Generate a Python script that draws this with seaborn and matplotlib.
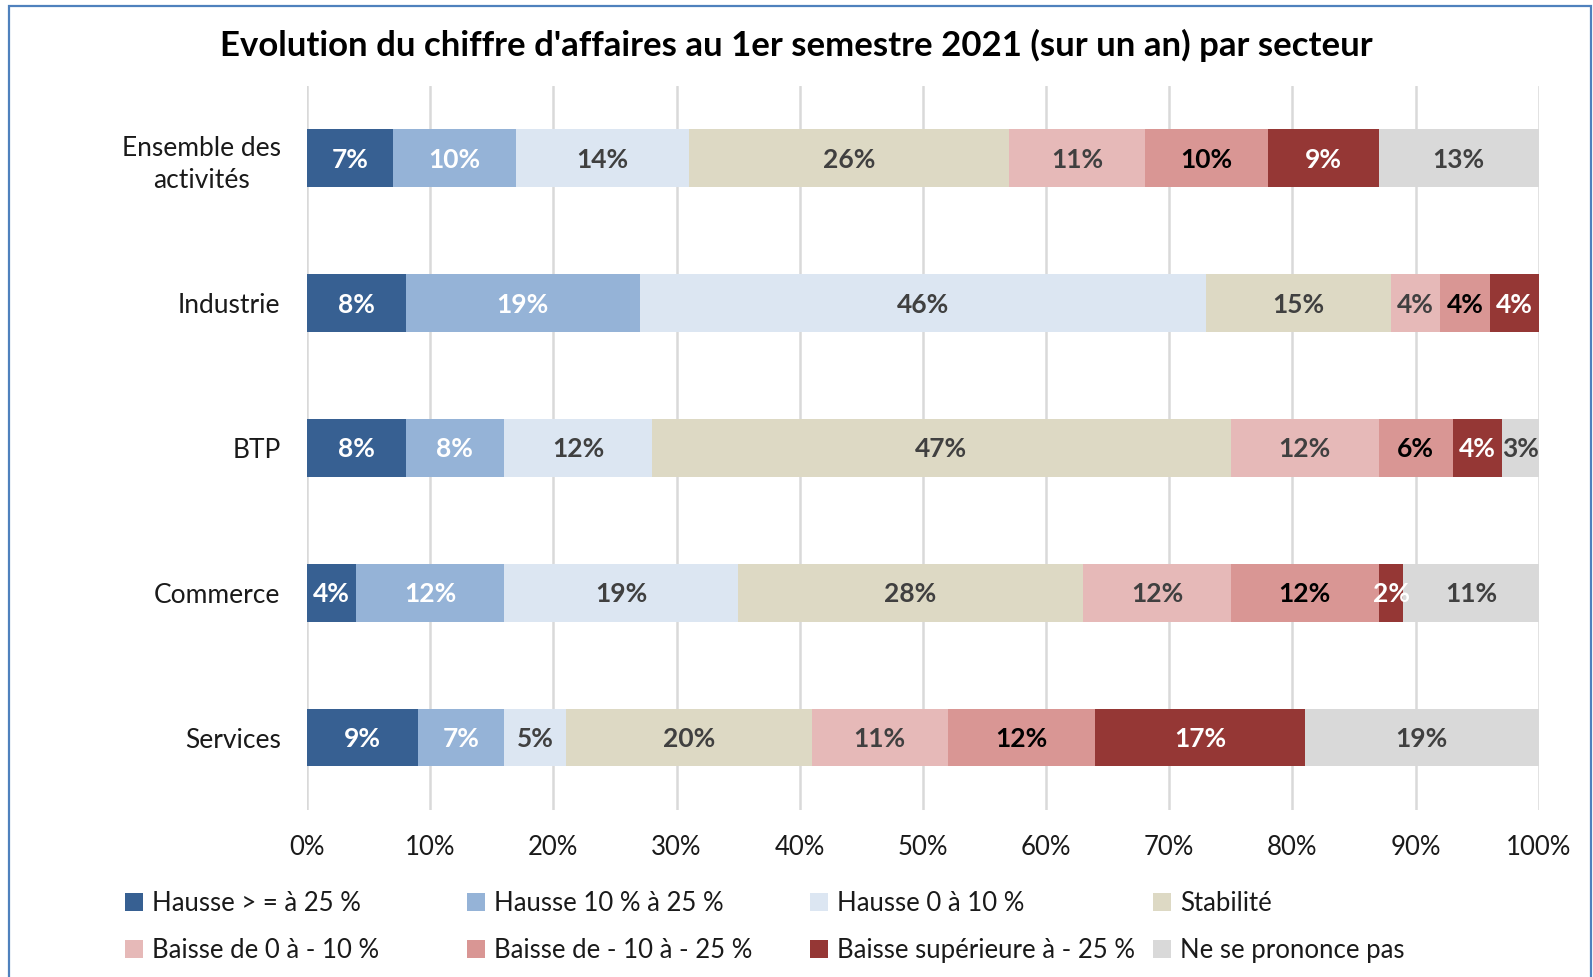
import matplotlib
matplotlib.use("Agg")
import matplotlib.pyplot as plt
from matplotlib.patches import Rectangle, Patch
import seaborn as sns
import pandas as pd
import numpy as np

sectors = ["Ensemble des\nactivités", "Industrie", "BTP", "Commerce", "Services"]
series_names = ["Hausse > = à 25 %", "Hausse 10 % à 25 %", "Hausse 0 à 10 %", "Stabilité",
                "Baisse de 0 à - 10 %", "Baisse de - 10 à - 25 %", "Baisse supérieure à - 25 %",
                "Ne se prononce pas"]
hausse_25 = [7, 8, 8, 4, 9]
hausse_10_25 = [10, 19, 8, 12, 7]
hausse_0_10 = [14, 46, 12, 19, 5]
stabilite = [26, 15, 47, 28, 20]
baisse_0_10 = [11, 4, 12, 12, 11]
baisse_10_25 = [10, 4, 6, 12, 12]
baisse_sup_25 = [9, 4, 4, 2, 17]
ne_se_prononce = [13, 0, 3, 11, 19]
values = [hausse_25, hausse_10_25, hausse_0_10, stabilite, baisse_0_10, baisse_10_25,
          baisse_sup_25, ne_se_prononce]

colors = ["#376092", "#95B3D7", "#DCE6F2", "#DDD9C4", "#E6B9B8", "#D99694", "#953735", "#D9D9D9"]
label_colors = ["white", "white", "#404040", "#404040", "#404040", "black", "white", "#404040"]

sns.set_theme(style="white")
FONT = ["Lato", "DejaVu Sans"]
plt.rcParams["font.family"] = FONT

fig = plt.figure(figsize=(15.93, 9.77), dpi=100)
ax = fig.add_axes([0.1927, 0.171, 0.966 - 0.1927, 0.912 - 0.171])

arr = np.array(values, dtype=float)
cum = np.cumsum(arr, axis=0)

for i in range(len(series_names) - 1, -1, -1):
    df = pd.DataFrame({"sector": sectors, "cum": cum[i]})
    sns.barplot(data=df, x="cum", y="sector", orient="h", color=colors[i], saturation=1,
                width=0.4, linewidth=0, ax=ax, zorder=2)

for i in range(len(series_names)):
    for j in range(len(sectors)):
        v = arr[i, j]
        if v <= 0:
            continue
        ax.text(cum[i, j] - v / 2, j + 0.01, f"{int(v)}%", ha="center", va="center",
                fontsize=19, fontweight="bold", color=label_colors[i], zorder=5)

ax.set_xlim(0, 100)
ax.set_ylim(4.5, -0.5)
ax.set_xticks(np.arange(0, 101, 10))
ax.set_xticklabels([f"{t}%" for t in range(0, 101, 10)], fontsize=18.5, color="#1a1a1a")
ax.set_yticks(range(len(sectors)))
ax.set_yticklabels(sectors, fontsize=19, color="#1a1a1a", multialignment="center",
                   linespacing=1.35)
ax.tick_params(axis="y", length=0, pad=19)
ax.tick_params(axis="x", length=0, pad=18)
ax.set_xlabel("")
ax.set_ylabel("")
for s in ax.spines.values():
    s.set_visible(False)
ax.grid(axis="x", color="#D9D9D9", linewidth=1.8, zorder=0)
ax.grid(axis="y", visible=False)
ax.set_axisbelow(True)

fig.text(0.5, 0.954, "Evolution du chiffre d'affaires au 1er semestre 2021 (sur un an) par secteur",
         ha="center", va="center", fontsize=25, fontweight="bold", color="black")

handles = [Patch(facecolor=c, edgecolor="none") for c in colors]
col_x = [125, 467, 810, 1153]
for c in range(4):
    idx = [c, c + 4]
    leg = fig.legend([handles[k] for k in idx], [series_names[k] for k in idx],
                     ncol=1, loc="center left", bbox_to_anchor=(col_x[c] / 1593, 0.051),
                     frameon=False, fontsize=18.5, handlelength=0.7, handleheight=0.7,
                     handletextpad=0.35, labelspacing=0.85, borderpad=0, borderaxespad=0)
    for t in leg.get_texts():
        t.set_color("#1a1a1a")

fig.patches.append(Rectangle((9 / 1593, -0.05), (1591 - 9) / 1593, 1 - 6 / 977 + 0.05,
                             transform=fig.transFigure, fill=False, edgecolor="#4F81BD",
                             linewidth=1.6, zorder=10))

fig.savefig("out.png", dpi=100)
